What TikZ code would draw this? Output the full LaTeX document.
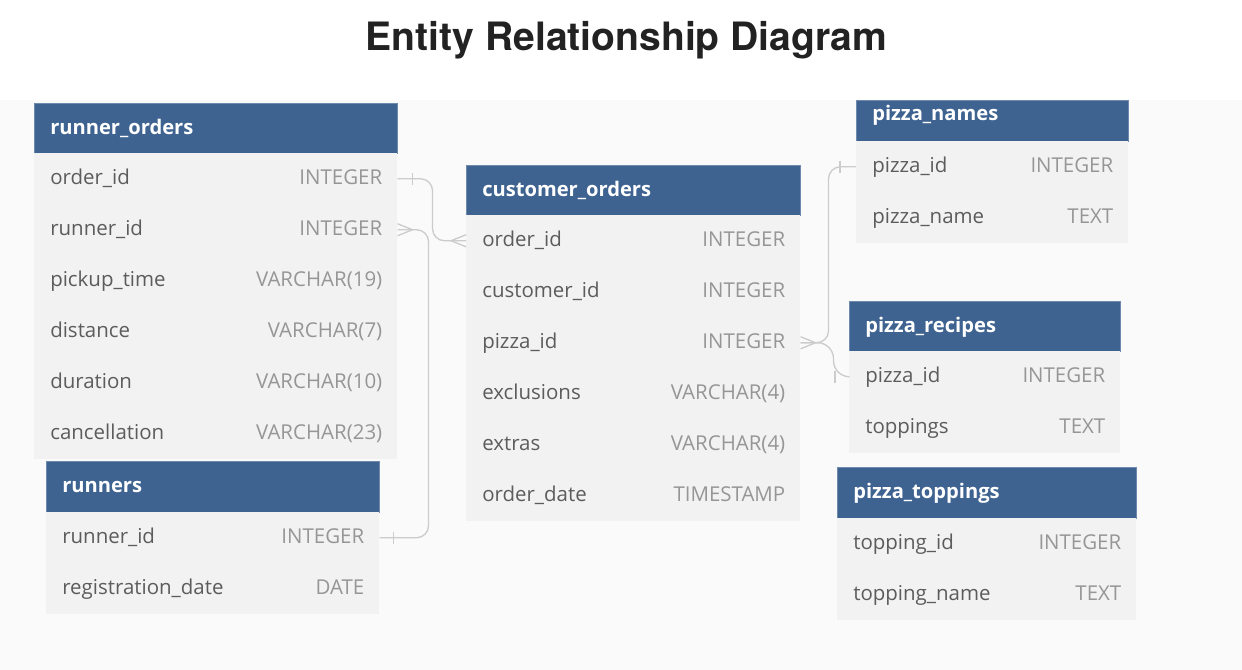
\documentclass[tikz,border=0pt]{standalone}
\usepackage{fontspec}
\setmainfont{Open Sans}
\newfontfamily\titlefont{TeX Gyre Heros}
\usetikzlibrary{calc}
\definecolor{hdrblue}{RGB}{63,99,145}
\definecolor{rowgray}{RGB}{242,242,242}
\definecolor{bggray}{RGB}{250,250,250}
\definecolor{fldcol}{RGB}{92,92,92}
\definecolor{typcol}{RGB}{150,150,150}
\definecolor{conncol}{RGB}{204,204,204}
\definecolor{titlecol}{RGB}{34,34,34}
\tikzset{
  hdrbox/.style={rectangle, fill=hdrblue, draw=hdrblue!75!white, line width=0.5pt, inner sep=0pt},
  hdrtext/.style={inner sep=0pt, text=white, font=\fontsize{15.1}{18}\selectfont\bfseries},
  rowbox/.style={rectangle, fill=rowgray, draw=none, inner sep=0pt, minimum height=38.25pt},
  fldtext/.style={inner sep=0pt, text=fldcol, font=\fontsize{15.35}{18}\selectfont},
  typtext/.style={inner sep=0pt, text=typcol, font=\fontsize{15.35}{18}\selectfont},
  conn/.style={draw=conncol, line width=1pt, rounded corners=9pt},
  erdmark/.style={draw=conncol, line width=1pt},
}
\newcommand\ehead[6]{%
  \node[hdrbox, minimum width=#4*0.75pt, minimum height=#5*0.75pt, anchor=north west] (#1) at (#2,#3) {};
  \node[hdrtext, anchor=base west] (#1-t) at ($(#1.west)+(16,6)$) {#6};
}
\newcommand\erow[6]{%
  \node[rowbox, minimum width=#4*0.75pt, anchor=north west] (#1) at (#2,#3) {};
  \node[fldtext, anchor=base west] (#1-f) at ($(#1.west)+(16,6)$) {#5};
  \node[typtext, anchor=base east] (#1-t) at ($(#1.east)+(-15,6)$) {#6};
}
\begin{document}
\begin{tikzpicture}[x=0.75pt, y=-0.75pt]
\useasboundingbox (0,0) rectangle (1242,670);
\fill[white] (0,0) rectangle (1242,100);
\fill[bggray] (0,100) rectangle (1242,670);

\node[inner sep=0pt, anchor=base, text=titlecol, font=\titlefont\fontsize{29.3}{33}\selectfont\bfseries] (title) at (626.5,51) {Entity Relationship Diagram};

% runner_orders
\ehead{ro}{34}{103}{363}{50}{runner\_orders}
\erow{ro-order}{34}{153}{363}{order\_id}{INTEGER}
\erow{ro-runner}{34}{204}{363}{runner\_id}{INTEGER}
\erow{ro-pickup}{34}{255}{363}{pickup\_time}{VARCHAR(19)}
\erow{ro-dist}{34}{306}{363}{distance}{VARCHAR(7)}
\erow{ro-dur}{34}{357}{363}{duration}{VARCHAR(10)}
\erow{ro-canc}{34}{408}{363}{cancellation}{VARCHAR(23)}

% runners
\ehead{rn}{46}{461}{333}{51}{runners}
\erow{rn-runner}{46}{512}{333}{runner\_id}{INTEGER}
\erow{rn-reg}{46}{563}{333}{registration\_date}{DATE}

% customer_orders
\ehead{co}{466}{165}{334}{50}{customer\_orders}
\erow{co-order}{466}{215}{334}{order\_id}{INTEGER}
\erow{co-cust}{466}{266}{334}{customer\_id}{INTEGER}
\erow{co-pizza}{466}{317}{334}{pizza\_id}{INTEGER}
\erow{co-excl}{466}{368}{334}{exclusions}{VARCHAR(4)}
\erow{co-extra}{466}{419}{334}{extras}{VARCHAR(4)}
\erow{co-date}{466}{470}{334}{order\_date}{TIMESTAMP}

% pizza_names (header clipped at the top of the grey area)
\node[hdrbox, minimum width=272*0.75pt, minimum height=41*0.75pt, anchor=north west] (pn) at (856,100) {};
\node[hdrtext, anchor=base west] (pn-t) at (872,121) {pizza\_names};
\erow{pn-pizza}{856}{141}{272}{pizza\_id}{INTEGER}
\erow{pn-name}{856}{192}{272}{pizza\_name}{TEXT}

% pizza_recipes
\ehead{pr}{849}{301}{271}{50}{pizza\_recipes}
\erow{pr-pizza}{849}{351}{271}{pizza\_id}{INTEGER}
\erow{pr-top}{849}{402}{271}{toppings}{TEXT}

% pizza_toppings
\ehead{pt}{837}{467}{299}{51}{pizza\_toppings}
\erow{pt-id}{837}{518}{299}{topping\_id}{INTEGER}
\erow{pt-name}{837}{569}{299}{topping\_name}{TEXT}

% connectors
\draw[conn] (ro-order.east) -- ++(35,0) |- (co-order.west);
\draw[conn] (ro-runner.east) -- ++(31,0) |- (rn-runner.east);
\draw[conn] (co-pizza.east) -- ++(28,0) |- (pn-pizza.west);
\draw[conn, rounded corners=12pt] (co-pizza.east) -- ++(33,0) |- (pr-pizza.west);

% one-bars
\draw[erdmark] ($(ro-order.east)+(15,-6)$) -- ++(0,12);
\draw[erdmark] ($(rn-runner.east)+(14,-6)$) -- ++(0,12);
\draw[erdmark] ($(pn-pizza.west)+(-16,-6)$) -- ++(0,12);
\draw[erdmark] ($(pr-pizza.west)+(-14,-6)$) -- ++(0,12);

% crow's feet
\draw[erdmark] ($(co-order.west)+(0,-6)$) -- ($(co-order.west)+(-15,0)$) -- ($(co-order.west)+(0,6)$);
\draw[erdmark] ($(ro-runner.east)+(0,-6)$) -- ($(ro-runner.east)+(15,0)$) -- ($(ro-runner.east)+(0,6)$);
\draw[erdmark] ($(co-pizza.east)+(0,-6)$) -- ($(co-pizza.east)+(15,0)$) -- ($(co-pizza.east)+(0,6)$);
\end{tikzpicture}
\end{document}
